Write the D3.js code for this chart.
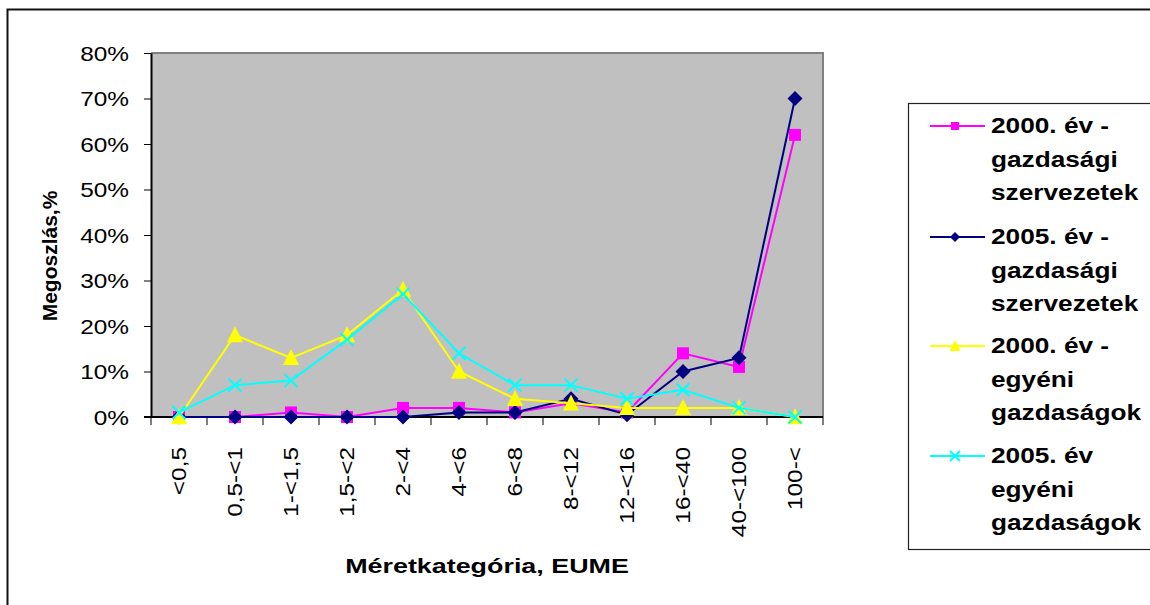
<!DOCTYPE html>
<html lang="hu">
<head>
<meta charset="UTF-8" />
<script src="https://d3js.org/d3.v7.min.js"></script>
<style>
  html, body { margin: 0; padding: 0; background: #fff; }
  svg { display: block; font-family: "Liberation Sans", Arial, sans-serif; }
</style>
</head>
<body>
<svg id="chart" width="1150" height="605"></svg>
<script>
// size categories (EUME) and the four series, in %
var categories = ["<0,5", "0,5-<1", "1-<1,5", "1,5-<2", "2-<4", "4-<6", "6-<8", "8-<12", "12-<16", "16-<40", "40-<100", "100-<"];
var gsz2000 = [0, 0, 1, 0, 2, 2, 1, 3, 1, 14, 11, 62];
var gsz2005 = [0, 0, 0, 0, 0, 1, 1, 4, 0.5, 10, 13, 70];
var egy2000 = [0, 18, 13, 18, 28, 10, 4, 3, 2, 2, 2, 0];
var egy2005 = [1, 7, 8, 17, 27, 14, 7, 7, 4, 6, 2, 0];
var seriesNames = [
  ["2000. év -", "gazdasági", "szervezetek"],
  ["2005. év -", "gazdasági", "szervezetek"],
  ["2000. év -", "egyéni", "gazdaságok"],
  ["2005. év", "egyéni", "gazdaságok"]
];
var seriesColors = ["#ff00ff", "#000080", "#ffff00", "#00ffff"];
var seriesMarks = ["square", "diamond", "triangle", "x"];
var yTicks = [0, 10, 20, 30, 40, 50, 60, 70, 80];

var series = [gsz2000, gsz2005, egy2000, egy2005].map(function (v, i) {
  return { values: v, name: seriesNames[i], color: seriesColors[i], mark: seriesMarks[i] };
});

var svg = d3.select("#chart");
var plot = { left: 151, top: 53, right: 823, bottom: 417 };

var x = d3.scaleBand().domain(categories).range([plot.left, plot.right]);
var y = d3.scaleLinear().domain([0, 80]).range([plot.bottom, plot.top]);

// outer frame (only top and left visible)
svg.append("path")
  .attr("d", "M7.5,605 V9.5 H1150")
  .attr("fill", "none").attr("stroke", "#111").attr("stroke-width", 2);

// plot area
svg.append("rect")
  .attr("x", plot.left).attr("y", plot.top)
  .attr("width", plot.right - plot.left).attr("height", plot.bottom - plot.top)
  .attr("fill", "#c0c0c0");
svg.append("path")
  .attr("d", "M" + plot.left + "," + plot.top + " H" + plot.right + " V" + plot.bottom)
  .attr("fill", "none").attr("stroke", "#808080").attr("stroke-width", 2);

// marker shapes
function markPath(type, s) {
  var h = s / 2;
  if (type === "square") return "M" + -h + "," + -h + "H" + h + "V" + h + "H" + -h + "Z";
  if (type === "diamond") return "M0," + -h + "L" + h + ",0L0," + h + "L" + -h + ",0Z";
  if (type === "triangle") return "M0," + (-h * 1.1) + "L" + h + "," + h * 0.9 + "L" + -h + "," + h * 0.9 + "Z";
  return "M" + -h + "," + -h + "L" + h + "," + h + "M" + h + "," + -h + "L" + -h + "," + h;
}
function drawMark(g, type, color, s) {
  var p = g.append("path").attr("d", markPath(type, s));
  if (type === "x") p.attr("fill", "none").attr("stroke", color).attr("stroke-width", 2);
  else p.attr("fill", color);
}
var markSize = { square: 12, diamond: 15, triangle: 16, x: 13 };
var legendSize = { square: 8, diamond: 10, triangle: 11, x: 10 };

// y axis
var yAxis = svg.append("g")
  .attr("transform", "translate(" + plot.left + ",0)")
  .call(d3.axisLeft(y).tickValues(yTicks).tickSize(7).tickSizeOuter(0).tickFormat(function (d) { return d + "%"; }));
yAxis.select(".domain").attr("stroke", "#000").attr("stroke-width", 2);
yAxis.selectAll(".tick line").attr("stroke", "#000");
yAxis.selectAll(".tick text")
  .attr("x", 0).attr("dy", "0.36em")
  .attr("transform", "translate(-22,0) scale(1.22,1)")
  .attr("font-size", 20).attr("fill", "#000")
  .attr("font-family", "Liberation Sans, Arial, sans-serif");

// x axis: labels at band centres, ticks at band edges
var xAxis = svg.append("g")
  .attr("transform", "translate(0," + plot.bottom + ")")
  .call(d3.axisBottom(x).tickSize(0).tickSizeOuter(0));
xAxis.select(".domain").remove();
xAxis.selectAll(".tick text")
  .attr("x", 0).attr("y", 0).attr("dy", 0)
  .attr("text-anchor", "end")
  .attr("transform", "translate(7,30) rotate(-90) scale(1.22,1)")
  .attr("font-size", 20).attr("fill", "#000")
  .attr("font-family", "Liberation Sans, Arial, sans-serif");
var edges = categories.map(function (c) { return x(c); }).concat([x.range()[1]]);
xAxis.selectAll("line.edge").data(edges).join("line")
  .attr("class", "edge")
  .attr("x1", function (d) { return d; }).attr("x2", function (d) { return d; })
  .attr("y1", 0).attr("y2", 8)
  .attr("stroke", "#000");
xAxis.append("line")
  .attr("x1", plot.left - 7).attr("x2", plot.right)
  .attr("y1", 0).attr("y2", 0)
  .attr("stroke", "#000").attr("stroke-width", 2);

// series lines and markers
var line = d3.line()
  .x(function (d, i) { return x(categories[i]) + x.bandwidth() / 2; })
  .y(function (d) { return y(d); });

series.forEach(function (s) {
  svg.append("path")
    .datum(s.values)
    .attr("d", line)
    .attr("fill", "none")
    .attr("stroke", s.color)
    .attr("stroke-width", 2);
  s.values.forEach(function (v, i) {
    var g = svg.append("g")
      .attr("transform", "translate(" + (x(categories[i]) + x.bandwidth() / 2) + "," + y(v) + ")");
    drawMark(g, s.mark, s.color, markSize[s.mark]);
  });
});

// axis titles
svg.append("text")
  .attr("transform", "translate(57,256) rotate(-90)")
  .attr("text-anchor", "middle")
  .attr("font-size", 21).attr("font-weight", "bold")
  .text("Megoszlás,%");
svg.append("text")
  .attr("transform", "translate(487,573) scale(1.28,1)")
  .attr("text-anchor", "middle")
  .attr("font-size", 21).attr("font-weight", "bold")
  .text("Méretkategória, EUME");

// legend
var legend = svg.append("g");
legend.append("rect")
  .attr("x", 908.5).attr("y", 103.5)
  .attr("width", 260).attr("height", 446)
  .attr("fill", "#fff").attr("stroke", "#222").attr("stroke-width", 1.2);

var firstBase = [133, 244, 353, 463];
series.forEach(function (s, k) {
  var b = firstBase[k];
  legend.append("line")
    .attr("x1", 930).attr("x2", 985)
    .attr("y1", b - 7).attr("y2", b - 7)
    .attr("stroke", s.color).attr("stroke-width", 2);
  var g = legend.append("g").attr("transform", "translate(955," + (b - 7) + ")");
  drawMark(g, s.mark, s.color, legendSize[s.mark]);
  s.name.forEach(function (t, j) {
    legend.append("text")
      .attr("transform", "translate(991," + (b + j * 33.5) + ") scale(1.22,1)")
      .attr("font-size", 21.5).attr("font-weight", "bold")
      .text(t);
  });
});
</script>
</body>
</html>
